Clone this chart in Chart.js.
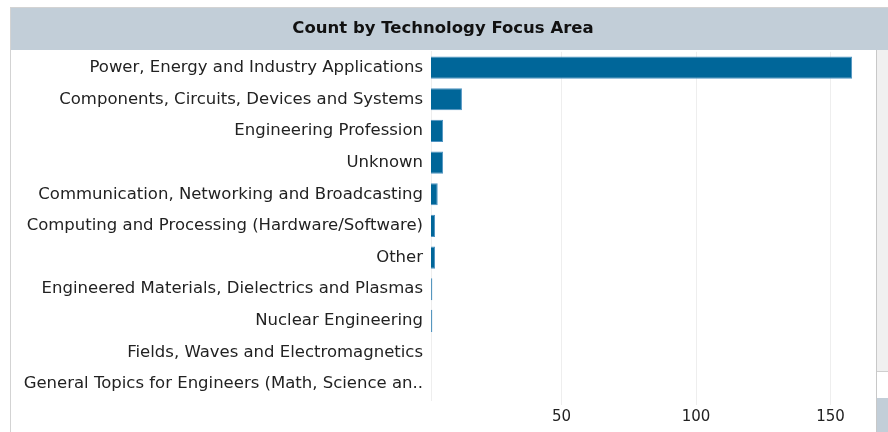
<!DOCTYPE html>
<html>
<head>
<meta charset="utf-8">
<script src="https://cdn.jsdelivr.net/npm/chart.js@4/dist/chart.umd.min.js"></script>
<style>
  html, body { margin: 0; padding: 0; background: #fff; width: 888px; height: 432px; overflow: hidden; }
  #wrap { position: absolute; left: 11px; top: 8px; width: 865px; height: 424px; }
  .ln { position: absolute; background: #d3d3d3; }
</style>
</head>
<body>
<div class="ln" style="left:10px;top:7px;width:878px;height:1px;"></div>
<div class="ln" style="left:10px;top:7px;width:1px;height:425px;"></div>
<div style="position:absolute;left:876px;top:8px;width:12px;height:42px;background:#c2ced8;"></div>
<div class="ln" style="left:876px;top:50px;width:1px;height:382px;background:#c8c8c8;"></div>
<div style="position:absolute;left:877px;top:50px;width:11px;height:321px;background:#f0f0f0;"></div>
<div class="ln" style="left:877px;top:371px;width:11px;height:1px;background:#cfcfcf;"></div>
<div style="position:absolute;left:877px;top:398px;width:11px;height:34px;background:#c2ced8;"></div>
<div id="wrap"><canvas id="c" width="865" height="424"></canvas></div>
<script>
const categories = [
  "Power, Energy and Industry Applications",
  "Components, Circuits, Devices and Systems",
  "Engineering Profession",
  "Unknown",
  "Communication, Networking and Broadcasting",
  "Computing and Processing (Hardware/Software)",
  "Other",
  "Engineered Materials, Dielectrics and Plasmas",
  "Nuclear Engineering",
  "Fields, Waves and Electromagnetics",
  "General Topics for Engineers (Math, Science an.."
];
const counts = [158, 13, 6, 6, 4, 3, 3, 2, 2, 1, 1];
const xTicks = [50, 100, 150];
const chartTitle = "Count by Technology Focus Area";

const titleBand = {
  id: 'titleBand',
  beforeDraw(chart) {
    const ctx = chart.ctx;
    ctx.save();
    ctx.fillStyle = '#c2ced8';
    ctx.fillRect(0, 0, chart.width, 42);
    ctx.restore();
  }
};

new Chart(document.getElementById('c'), {
  type: 'bar',
  data: {
    labels: categories,
    datasets: [{
      data: counts,
      backgroundColor: '#006699',
      borderColor: '#4f93c2',
      borderWidth: 1,
      borderSkipped: 'start',
      barPercentage: 0.7,
      categoryPercentage: 1.0
    }]
  },
  plugins: [titleBand],
  options: {
    indexAxis: 'y',
    responsive: false,
    animation: false,
    devicePixelRatio: 1,
    layout: { padding: { top: 1, right: 1, left: 0, bottom: 3 } },
    plugins: {
      legend: { display: false },
      tooltip: { enabled: false },
      title: {
        display: true,
        text: chartTitle,
        color: '#111',
        font: { family: 'DejaVu Sans', size: 16.5, weight: 'bold' },
        padding: { top: 10, bottom: 13 }
      }
    },
    scales: {
      x: {
        min: 1.5,
        max: 166.5,
        afterBuildTicks(scale) { scale.ticks = xTicks.map(v => ({ value: v })); },
        grid: { color: '#eeeeee', tickLength: 5, tickColor: '#eeeeee', drawOnChartArea: true },
        border: { display: false },
        ticks: {
          color: '#222',
          font: { family: 'DejaVu Sans', size: 15 },
          padding: 3
        }
      },
      y: {
        afterFit(scale) { scale.width = 420; },
        grid: { display: false },
        border: { display: true, color: '#eeeeee' },
        ticks: {
          color: '#222',
          font: { family: 'DejaVu Sans', size: 16.5 },
          padding: 0,
          autoSkip: false
        }
      }
    }
  }
});
</script>
</body>
</html>
